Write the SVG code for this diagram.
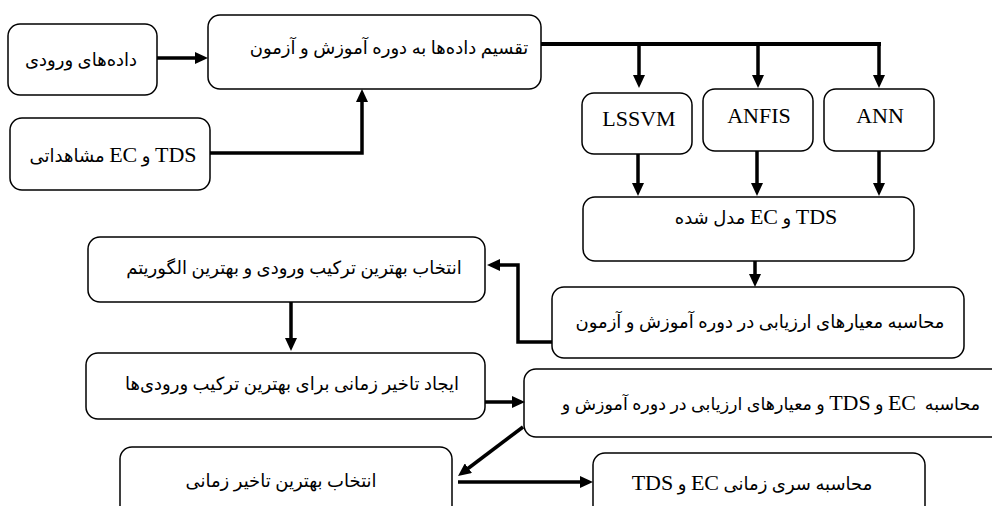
<svg xmlns="http://www.w3.org/2000/svg" width="992" height="506" viewBox="0 0 992 506">
<style>
.box{fill:#fff;stroke:#000;stroke-width:1.5}
.t{font-family:"Liberation Serif","DejaVu Sans",serif;font-size:18px;fill:#000;text-anchor:middle;direction:rtl;unicode-bidi:embed}
.lat{font-size:22px}
.c{fill:none;stroke:#000;stroke-width:3.5}
</style>
<defs>
<marker id="ah" viewBox="0 0 13 12" markerWidth="13" markerHeight="12" refX="3" refY="6" orient="auto" markerUnits="userSpaceOnUse">
<path d="M0,0 L13,6 L0,12 z" fill="#000"/>
</marker>
</defs>
<rect width="992" height="506" fill="#fff"/>
<g id="n1"><rect class="box" x="8" y="24" width="149" height="71" rx="12"/><text class="t" x="81" y="66">داده‌های ورودی</text></g>
<g id="n2"><rect class="box" x="208" y="15" width="333" height="74" rx="12"/><text class="t" x="389" y="54">تقسیم داده‌ها به دوره آموزش و آزمون</text></g>
<g id="n3"><rect class="box" x="10" y="118" width="200" height="72" rx="12"/><text class="t" x="113" y="162"><tspan class="lat">TDS</tspan> و <tspan class="lat">EC</tspan> مشاهداتی</text></g>
<g id="n4"><rect class="box" x="582" y="93" width="110" height="61" rx="12"/><text class="t lat" x="639" y="126">LSSVM</text></g>
<g id="n5"><rect class="box" x="703" y="89" width="110" height="62" rx="12"/><text class="t lat" x="759" y="123">ANFIS</text></g>
<g id="n6"><rect class="box" x="824" y="89" width="110" height="62" rx="12"/><text class="t lat" x="880" y="123">ANN</text></g>
<g id="n7"><rect class="box" x="583" y="197" width="331" height="64" rx="12"/><text class="t" x="756" y="224"><tspan class="lat">TDS</tspan> و <tspan class="lat">EC</tspan> مدل شده</text></g>
<g id="n8"><rect class="box" x="552" y="287" width="412" height="71" rx="12"/><text class="t" x="760" y="328">محاسبه معیارهای ارزیابی در دوره آموزش و آزمون</text></g>
<g id="n9"><rect class="box" x="88" y="237" width="397" height="65" rx="12"/><text class="t" x="294" y="274">انتخاب بهترین ترکیب ورودی و بهترین الگوریتم</text></g>
<g id="n10"><rect class="box" x="86" y="353" width="399" height="66" rx="12"/><text class="t" x="292" y="390">ایجاد تاخیر زمانی برای بهترین ترکیب ورودی‌ها</text></g>
<g id="n11"><rect class="box" x="524" y="369" width="490" height="68" rx="12"/><text class="t" x="771" y="410" style="white-space:pre;font-size:17.5px">محاسبه  <tspan class="lat">EC</tspan> و <tspan class="lat">TDS</tspan> و معیارهای ارزیابی در دوره آموزش و</text></g>
<g id="n12"><rect class="box" x="120" y="447" width="332" height="80" rx="12"/><text class="t" x="281" y="487">انتخاب بهترین تاخیر زمانی</text></g>
<g id="n13"><rect class="box" x="593" y="453" width="332" height="80" rx="12"/><text class="t" x="752" y="490">محاسبه سری زمانی <tspan class="lat">EC</tspan> و <tspan class="lat">TDS</tspan></text></g>
<g id="connectors">
<path class="c" d="M157,58 H198" marker-end="url(#ah)"/>
<path class="c" d="M210,153 H362 V99" marker-end="url(#ah)"/>
<path class="c" d="M541,44 H881" style="stroke-width:4"/>
<path class="c" d="M639,44 V78" marker-end="url(#ah)"/>
<path class="c" d="M758,44 V78" marker-end="url(#ah)"/>
<path class="c" d="M879,44 V78" marker-end="url(#ah)"/>
<path class="c" d="M638,154 V186" marker-end="url(#ah)"/>
<path class="c" d="M757,151 V186" marker-end="url(#ah)"/>
<path class="c" d="M879,151 V186" marker-end="url(#ah)"/>
<path class="c" d="M755,261 V277" marker-end="url(#ah)"/>
<path class="c" d="M552,342 H518 V265 H497" marker-end="url(#ah)"/>
<path class="c" d="M291,302 V341" marker-end="url(#ah)"/>
<path class="c" d="M485,402 H515" marker-end="url(#ah)"/>
<path class="c" d="M523,427 L466,470" marker-end="url(#ah)"/>
<path class="c" d="M458,482 H583" marker-end="url(#ah)"/>
</g>
</svg>
